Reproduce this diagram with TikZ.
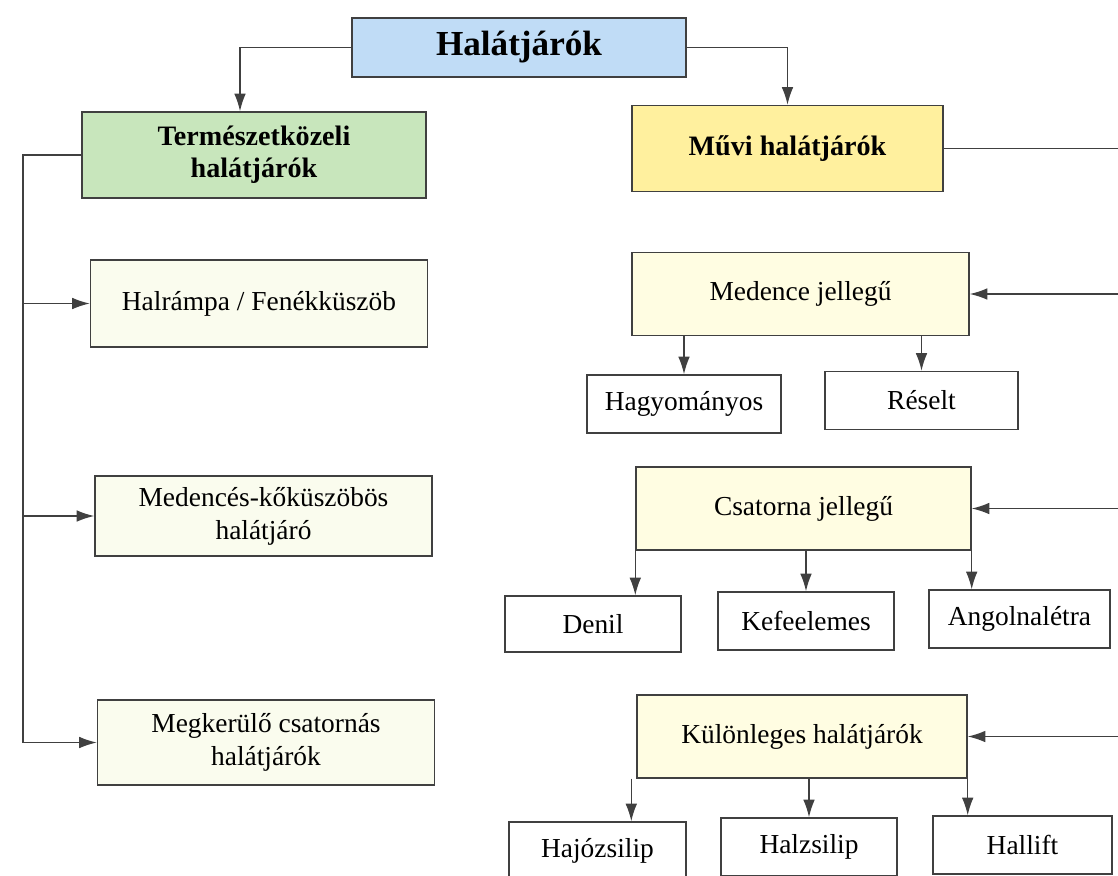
\documentclass[tikz,border=0pt]{standalone}
\usepackage{fontspec}
\setmainfont{Liberation Serif}
\usetikzlibrary{arrows.meta,positioning,calc}
\definecolor{passblue}{RGB}{192,220,246}
\definecolor{passgreen}{RGB}{200,230,188}
\definecolor{passyellow}{RGB}{255,240,158}
\definecolor{passcream}{RGB}{255,253,226}
\definecolor{passpale}{RGB}{250,252,238}
\newcommand{\px}{0.025cm}
\tikzset{
 rootbox/.style={rectangle,draw=black!75,line width=1pt,fill=passblue,minimum width=334*\px,minimum height=59*\px,inner sep=0pt,align=center,font=\fontsize{25}{30}\selectfont\bfseries},
 groupbox/.style={rectangle,draw=black!75,line width=1pt,minimum height=86*\px,inner sep=0pt,align=center,font=\fontsize{20}{23}\selectfont\bfseries},
 typebox/.style={rectangle,draw=black!75,line width=1pt,fill=passcream,minimum width=335*\px,minimum height=83*\px,inner sep=0pt,align=center,font=\fontsize{19.5}{23.5}\selectfont},
 sidebox/.style={rectangle,draw=black!75,line width=1pt,fill=passpale,minimum width=337*\px,minimum height=84*\px,inner sep=0pt,align=center,font=\fontsize{19.5}{23.5}\selectfont},
 leafbox/.style={rectangle,draw=black!75,line width=1pt,fill=white,minimum width=178*\px,minimum height=58*\px,inner sep=0pt,align=center,font=\fontsize{19.5}{23.5}\selectfont},
 arrow/.style={-{Latex[length=4.4mm,width=2.9mm]},line width=1pt,draw=black!75}}
\begin{document}
\begin{tikzpicture}[x=0.025cm,y=-0.025cm]
\useasboundingbox (0,0) rectangle (1118,875);
% main levels
\node[rootbox] (root) at (519,47.5) {Halátjárók};
\node[groupbox,fill=passgreen,minimum width=344*\px] (term) at (254,155) {Természetközeli\\halátjárók};
\node[groupbox,fill=passyellow,minimum width=311*\px] (muvi) at (787.5,148.5) {Művi halátjárók};
% left column
\node[sidebox,minimum height=87*\px] (ramp) at (259,303.5) {Halrámpa / Fenékküszöb};
\node[sidebox,minimum height=80*\px] (medko) at (263.5,516) {Medencés-kőküszöbös\\halátjáró};
\node[sidebox,minimum height=85*\px] (megker) at (266,742.5) {Megkerülő csatornás\\halátjárók};
% right column
\node[typebox,minimum width=337*\px] (medence) at (800.5,294) {Medence jellegű};
\node[leafbox,minimum width=194*\px] (hagy) at (684,404) {Hagyományos};
\node[leafbox,minimum width=193*\px] (resel) at (921.5,400.5) {Réselt};
\node[typebox] (csat) at (803.5,508.5) {Csatorna jellegű};
\node[leafbox,minimum width=176*\px,minimum height=56*\px] (denil) at (593,624) {Denil};
\node[leafbox,minimum width=176*\px] (kefe) at (806,621) {Kefeelemes};
\node[leafbox,minimum width=181*\px] (angol) at (1019.5,619) {Angolnalétra};
\node[typebox,minimum width=330*\px] (kulon) at (802,736.5) {Különleges halátjárók};
\node[leafbox,minimum width=177*\px] (hajo) at (597.5,851) {Hajózsilip};
\node[leafbox,minimum width=176*\px] (halzs) at (809,847) {Halzsilip};
\node[leafbox,minimum width=179*\px] (hallift) at (1022.5,845) {Hallift};
\coordinate (lbus) at (23,0);
\coordinate (rbus) at (1130,0);
% connectors
\draw[arrow] (root.west) -| ([xshift=-14*\px]term.north);
\draw[arrow] (root.east) -| (muvi.north);
\draw[arrow] (term.west) -| (lbus |- megker.west) -- (megker.west);
\draw[arrow] (lbus |- ramp.west) -- (ramp.west);
\draw[arrow] (lbus |- medko.west) -- (medko.west);
\draw[line width=1pt,draw=black!75] (muvi.east) -- (muvi.east -| rbus);
\draw[arrow] (medence.east -| rbus) -- (medence.east);
\draw[arrow] (csat.east -| rbus) -- (csat.east);
\draw[arrow] (kulon.east -| rbus) -- (kulon.east);
\draw[arrow] (hagy.north |- medence.south) -- (hagy.north);
\draw[arrow] (resel.north |- medence.south) -- (resel.north);
\draw[arrow] (csat.south west) -- (csat.south west |- denil.north);
\draw[arrow] (kefe.north |- csat.south) -- (kefe.north);
\draw[arrow] (csat.south east) -- (csat.south east |- angol.north);
\draw[arrow] ([xshift=-5*\px]kulon.south west) -- ([xshift=-5*\px]kulon.south west |- hajo.north);
\draw[arrow] (halzs.north |- kulon.south) -- (halzs.north);
\draw[arrow] (kulon.south east) -- (kulon.south east |- hallift.north);
\end{tikzpicture}
\end{document}
